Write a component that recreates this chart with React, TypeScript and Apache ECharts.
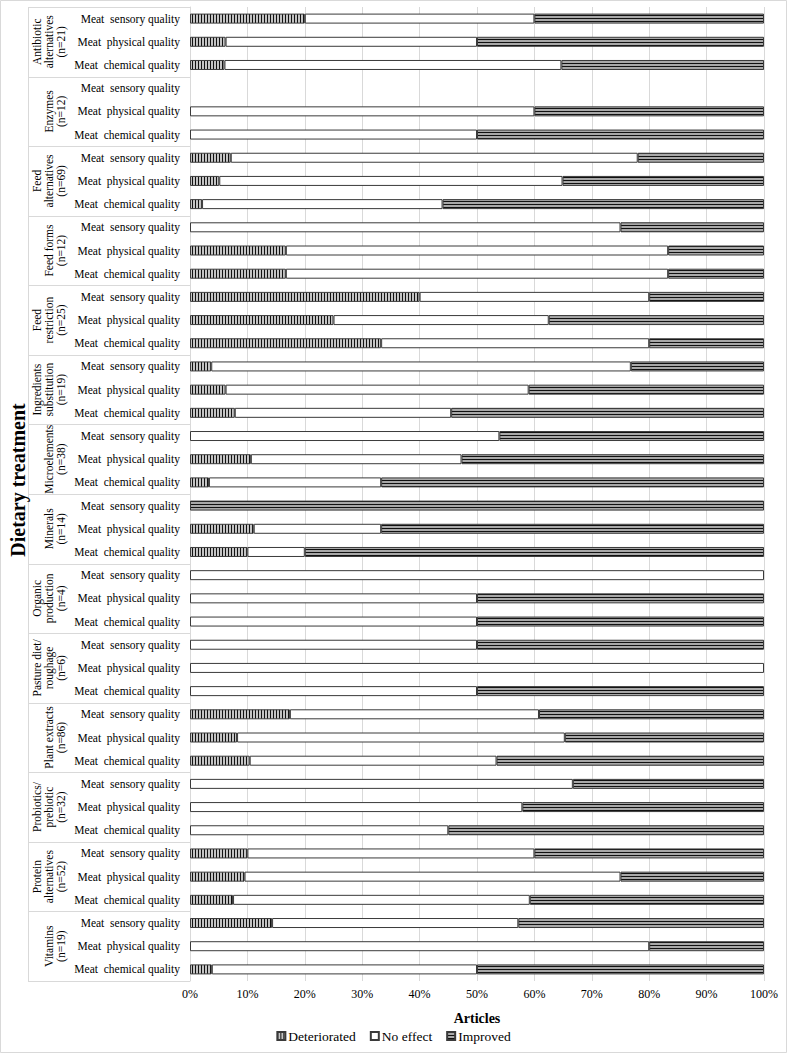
import React, { useEffect, useRef } from 'react';
import * as echarts from 'echarts';

const groupNames = [
  'Antibiotic\nalternatives\n(n=21)',
  'Enzymes\n(n=12)',
  'Feed\nalternatives\n(n=69)',
  'Feed forms\n(n=12)',
  'Feed\nrestriction\n(n=25)',
  'Ingredients\nsubstitution\n(n=19)',
  'Microelements\n(n=38)',
  'Minerals\n(n=14)',
  'Organic\nproduction\n(n=4)',
  'Pasture diet/\nroughage\n(n=6)',
  'Plant extracts\n(n=86)',
  'Probiotics/\nprebiotic\n(n=32)',
  'Protein\nalternatives\n(n=52)',
  'Vitamins\n(n=19)',
];

const qualityLabels = ['Meat  sensory quality', 'Meat  physical quality', 'Meat  chemical quality'];

const xTicks = [0, 10, 20, 30, 40, 50, 60, 70, 80, 90, 100];

// per group: sensory, physical, chemical
const deteriorated = [
  20, 6.2, 6,
  0, 0, 0,
  7.1, 5.1, 2.1,
  0, 16.7, 16.7,
  40, 25, 33.3,
  3.7, 6.2, 7.8,
  0, 10.6, 3.3,
  0, 11.1, 10,
  0, 0, 0,
  0, 0, 0,
  17.4, 8.2, 10.4,
  0, 0, 0,
  10, 9.5, 7.5,
  14.3, 0, 3.8,
];

const noEffect = [
  40, 43.8, 58.7,
  0, 60, 50,
  70.9, 59.8, 41.9,
  75, 66.6, 66.6,
  40, 37.5, 46.7,
  73.1, 52.8, 37.7,
  53.9, 36.7, 30,
  0, 22.2, 10,
  100, 50, 50,
  50, 100, 50,
  43.4, 57.1, 43,
  66.7, 57.9, 45,
  50, 65.5, 51.7,
  42.9, 80, 46.2,
];

const improved = [
  40, 50, 35.3,
  0, 40, 50,
  22, 35.1, 56,
  25, 16.7, 16.7,
  20, 37.5, 20,
  23.2, 41, 54.5,
  46.1, 52.7, 66.7,
  100, 66.7, 80,
  0, 50, 50,
  50, 0, 50,
  39.2, 34.7, 46.6,
  33.3, 42.1, 55,
  40, 25, 40.8,
  42.8, 20, 50,
];

const FONT = 'Liberation Serif';

function makePattern(kind: 'v' | 'h') {
  const c = document.createElement('canvas');
  const ctx = c.getContext('2d')!;
  if (kind === 'v') {
    c.width = 3;
    c.height = 4;
    ctx.fillStyle = '#c4c4c4';
    ctx.fillRect(0, 0, 3, 4);
    ctx.fillStyle = '#111';
    ctx.fillRect(0, 0, 1, 4);
  } else {
    c.width = 4;
    c.height = 3;
    ctx.fillStyle = '#a8a8a8';
    ctx.fillRect(0, 0, 4, 3);
    ctx.fillStyle = '#111';
    ctx.fillRect(0, 0, 4, 1);
  }
  return { image: c, repeat: 'repeat' } as any;
}

export default function App() {
  const ref = useRef<HTMLDivElement>(null);

  useEffect(() => {
    const chart = echarts.init(ref.current!, null, { renderer: 'svg' });
    const categories: string[] = [];
    groupNames.forEach(() => qualityLabels.forEach((q) => categories.push(q)));
    const toData = (arr: number[]) => arr.map((v) => (v === 0 ? '-' : v));

    const vPat = makePattern('v');
    const hPat = makePattern('h');

    const barCommon = {
      type: 'bar',
      stack: 'total',
      barWidth: 10,
      silent: true,
    };

    chart.setOption({
      animation: false,
      backgroundColor: '#fff',
      textStyle: { fontFamily: FONT, color: '#000' },
      grid: { left: 190, right: 23, top: 7, bottom: 72, containLabel: false },
      legend: {
        data: ['Deteriorated', 'No effect', 'Improved'],
        left: 'center',
        top: 1024,
        icon: 'rect',
        itemWidth: 8,
        itemHeight: 8,
        itemGap: 14,
        textStyle: { fontFamily: FONT, fontSize: 13.5, color: '#000', padding: [0, 0, 0, -2] },
        selectedMode: false,
      },
      xAxis: {
        type: 'value',
        min: 0,
        max: 100,
        interval: 10,
        name: 'Articles',
        nameLocation: 'middle',
        nameGap: 30,
        nameTextStyle: { fontFamily: FONT, fontSize: 14, fontWeight: 'bold', color: '#000' },
        axisLine: { show: false },
        axisTick: { show: false },
        axisLabel: {
          formatter: (v: number) => (xTicks.includes(v) ? v + '%' : ''),
          fontFamily: FONT,
          fontSize: 12,
          color: '#000',
          margin: 7,
        },
        splitLine: { show: true, lineStyle: { color: '#d9d9d9', width: 1 } },
      },
      yAxis: {
        type: 'category',
        data: categories,
        inverse: true,
        axisTick: { show: false },
        axisLine: { show: true, lineStyle: { color: '#d9d9d9' } },
        axisLabel: { fontFamily: FONT, fontSize: 11.5, color: '#000', margin: 10, interval: 0 },
        splitLine: { show: false },
      },
      series: [
        {
          ...barCommon,
          name: 'Deteriorated',
          data: toData(deteriorated),
          itemStyle: { color: vPat, borderColor: '#3a3a3a', borderWidth: 1 },
        },
        {
          ...barCommon,
          name: 'No effect',
          data: toData(noEffect),
          itemStyle: { color: '#ffffff', borderColor: '#3a3a3a', borderWidth: 1 },
        },
        {
          ...barCommon,
          name: 'Improved',
          data: toData(improved),
          itemStyle: { color: hPat, borderColor: '#3a3a3a', borderWidth: 1 },
        },
      ],
    } as any);

    const yPix = (i: number) => chart.convertToPixel({ yAxisIndex: 0 } as any, i) as number;
    const band = yPix(1) - yPix(0);
    const boxLeft = 28;
    const axisX = chart.convertToPixel({ xAxisIndex: 0 } as any, 0) as number;
    const elements: any[] = [];
    const topY = yPix(0) - band / 2;
    const botY = yPix(categories.length - 1) + band / 2;
    elements.push({
      type: 'rect',
      shape: { x: 0.5, y: 0.5, width: 786, height: 1052 },
      style: { fill: 'none', stroke: '#d9d9d9', lineWidth: 1 },
      silent: true,
    });
    elements.push({
      type: 'line',
      shape: { x1: boxLeft + 0.5, y1: topY, x2: boxLeft + 0.5, y2: botY },
      style: { stroke: '#d9d9d9', lineWidth: 1 },
      silent: true,
    });
    for (let g = 0; g <= groupNames.length; g++) {
      const idx = g * 3;
      const y = Math.round(yPix(Math.min(idx, categories.length - 1)) + (idx >= categories.length ? band / 2 : -band / 2)) + 0.5;
      elements.push({
        type: 'line',
        shape: { x1: boxLeft, y1: y, x2: axisX, y2: y },
        style: { stroke: '#d9d9d9', lineWidth: 1 },
        silent: true,
      });
    }
    groupNames.forEach((name, g) => {
      const cy = (yPix(g * 3) + yPix(g * 3 + 2)) / 2;
      elements.push({
        type: 'text',
        x: 67,
        y: cy,
        rotation: Math.PI / 2,
        style: {
          text: name,
          fontFamily: FONT,
          fontSize: 11.5,
          lineHeight: 12,
          fill: '#000',
          align: 'center',
          verticalAlign: 'bottom',
        },
        silent: true,
      });
    });
    elements.push({
      type: 'text',
      x: 18,
      y: 480,
      rotation: Math.PI / 2,
      style: {
        text: 'Dietary treatment',
        fontFamily: FONT,
        fontSize: 20,
        fontWeight: 'bold',
        fill: '#000',
        align: 'center',
        verticalAlign: 'middle',
      },
      silent: true,
    });
    chart.setOption({ graphic: { elements } } as any);

    return () => chart.dispose();
  }, []);

  return (
    <div
      ref={ref}
      style={{ position: 'absolute', left: 0, top: 0, width: 787, height: 1053, background: '#fff' }}
    />
  );
}
